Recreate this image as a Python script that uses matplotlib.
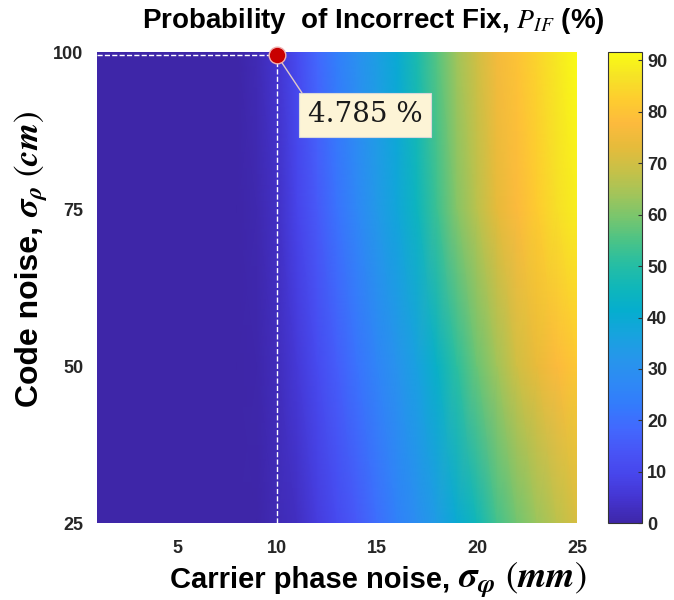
import numpy as np
import matplotlib
matplotlib.use("Agg")
import matplotlib.pyplot as plt
from matplotlib.colors import LinearSegmentedColormap

plt.rcParams['font.family'] = ['Liberation Sans', 'DejaVu Sans']
plt.rcParams['mathtext.fontset'] = 'stix'

# carrier phase noise (mm) and code noise (cm) grid
sig_phi = [1, 5, 8, 9, 10, 11, 12, 13, 14, 15, 16, 17, 18, 19, 20, 21, 22, 23, 24, 25]
sig_rho = [25, 50, 75, 100]
# probability of incorrect fix (%), one row per code noise value
pif_25 = [0, 0, 0, 0.3, 1.5, 3, 7, 11, 15, 20, 25, 29, 34, 40, 46, 54, 59, 63, 67, 71]
pif_50 = [0, 0, 0.1, 0.6, 2.5, 6, 11, 16, 21, 26, 31, 36, 43, 51, 58, 64, 70, 74, 78, 81]
pif_75 = [0, 0, 0.2, 1, 3.5, 9, 15, 21, 27, 33, 38, 45, 53, 61, 67, 73, 78, 82, 86, 89]
pif_100 = [0, 0, 0.3, 1.5, 4.8, 11, 18, 24, 30, 35, 40, 48, 56, 64, 70, 76, 80, 84, 88, 91.5]

pt_x, pt_y = 10, 99.5
pt_label = "4.785 %"
cbar_ticks = [0, 10, 20, 30, 40, 50, 60, 70, 80, 90]

# parula-like colormap
parula_pts = [
    (0.2422, 0.1504, 0.6603), (0.2670, 0.2050, 0.8150), (0.2800, 0.2700, 0.9200),
    (0.2810, 0.3300, 0.9650), (0.2600, 0.4100, 0.9950), (0.2000, 0.4830, 0.9890),
    (0.1800, 0.5400, 0.9600), (0.1500, 0.5900, 0.9200), (0.0900, 0.6400, 0.8700),
    (0.0200, 0.6800, 0.8100), (0.0600, 0.7150, 0.7300), (0.1500, 0.7450, 0.6400),
    (0.2900, 0.7650, 0.5300), (0.4700, 0.7750, 0.4300), (0.6400, 0.7700, 0.3500),
    (0.7800, 0.7550, 0.2800), (0.9000, 0.7350, 0.2300), (0.9900, 0.7300, 0.2400),
    (0.9950, 0.8000, 0.1850), (0.9650, 0.8900, 0.1500), (0.9769, 0.9839, 0.0805)]
parula = LinearSegmentedColormap.from_list("parula", parula_pts)

X, Y = np.meshgrid(sig_phi, sig_rho)
Z = np.array([pif_25, pif_50, pif_75, pif_100])

fig = plt.figure(figsize=(6.74, 6.0), dpi=100)
ax = fig.add_axes([0.144, 0.128, 0.712, 0.785])
mesh = ax.pcolormesh(X, Y, Z, shading='gouraud', cmap=parula, vmin=0, vmax=91.6)

ax.plot([pt_x, pt_x], [sig_rho[0], pt_y], color='white', ls='--', lw=1)
ax.plot([sig_phi[0], pt_x], [pt_y, pt_y], color='white', ls='--', lw=1)
ax.plot(pt_x, pt_y, 'o', ms=12, mfc='#c80000', mec='#f0b0b0', mew=1, clip_on=False, zorder=5)
ax.annotate(pt_label, xy=(pt_x, pt_y), xytext=(14.4, 90.0), ha='center', va='center',
            fontsize=20, family='DejaVu Serif', color='#1a1a1a',
            bbox=dict(boxstyle='square,pad=0.3', fc='#fdf4d6', ec='#d8d8d8', lw=0.8),
            arrowprops=dict(arrowstyle='-', color='#e0c8c8', lw=1, relpos=(0, 1),
                            shrinkA=0, shrinkB=5))

ax.set_xlim(1, 25)
ax.set_ylim(25, 100)
ax.set_xticks([5, 10, 15, 20, 25])
ax.set_yticks([25, 50, 75, 100])
for s in ax.spines.values():
    s.set_visible(False)
ax.tick_params(length=0, pad=10, labelsize=13, labelcolor='#262626')
ax.tick_params(axis='x', pad=12)
for lab in ax.get_xticklabels() + ax.get_yticklabels():
    lab.set_fontweight('bold')

cax = fig.add_axes([0.902, 0.128, 0.05, 0.785])
cb = fig.colorbar(mesh, cax=cax, ticks=cbar_ticks)
cb.outline.set_edgecolor('#333333')
cb.outline.set_linewidth(0.8)
cax.tick_params(direction='in', length=3, width=0.8, color='#333333', pad=4,
                labelsize=13, labelcolor='#262626')
for lab in cax.get_yticklabels():
    lab.set_fontweight('bold')

# labels: plain part and a larger math part placed right after it
rend = fig.canvas.get_renderer()
W, H = fig.get_size_inches() * fig.dpi

t1 = fig.text(0.252, 0.02, "Carrier phase noise, ", fontsize=21, fontweight='bold',
              ha='left', va='baseline')
bb = t1.get_window_extent(rend)
fig.text(bb.x1 / W, 0.02, r"$\mathbfit{\sigma_{\varphi}}\ (\mathbfit{mm})$", fontsize=26.5,
         ha='left', va='baseline')

t2 = fig.text(0.056, 0.322, "Code noise, ", fontsize=23, fontweight='bold', rotation=90,
              rotation_mode='anchor', ha='left', va='baseline')
bb = t2.get_window_extent(rend)
fig.text(0.056, bb.y1 / H, r"$\mathbfit{\sigma_{\rho}}\ (\mathbfit{cm})$", fontsize=25,
         rotation=90, rotation_mode='anchor', ha='left', va='baseline')

fig.text(0.211, 0.953, r"Probability  of Incorrect Fix, $P_{IF}$ (%)", fontsize=20,
         fontweight='bold', ha='left', va='baseline')

fig.savefig("out.png", dpi=100)
